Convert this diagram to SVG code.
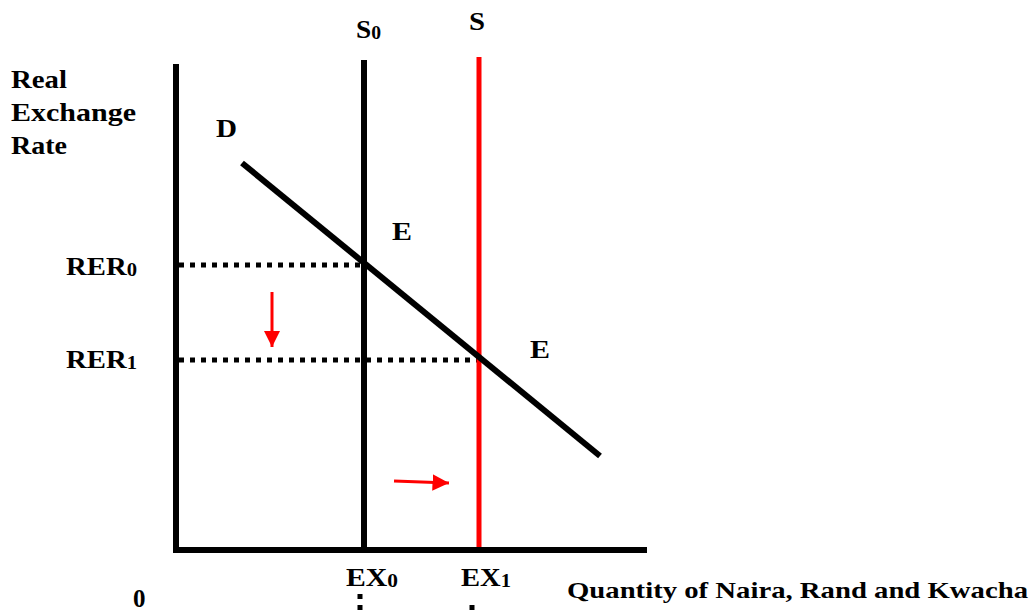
<svg xmlns="http://www.w3.org/2000/svg" width="1031" height="610" viewBox="0 0 1031 610">
<style>
text{font-family:"Liberation Serif","Times New Roman",serif;font-weight:bold;fill:#000}
.lbl{font-size:25px}
.sub{font-size:18px}
.ax{stroke:#000;stroke-width:6;fill:none}
.dot{stroke:#000;stroke-width:5;stroke-dasharray:5 6;fill:none}
.red{stroke:#ff0000;fill:none}
</style>
<defs>
<marker id="ah" viewBox="0 0 10 10" refX="10" refY="5" markerWidth="5.5" markerHeight="5.5" orient="auto" markerUnits="strokeWidth">
<path d="M0,0 L10,5 L0,10 z" fill="#ff0000"/>
</marker>
</defs>
<rect width="1031" height="610" fill="#fff"/>
<g id="axes">
<line class="ax" x1="176" y1="64" x2="176" y2="553"/>
<line class="ax" x1="173" y1="550" x2="647" y2="550" stroke-width="7"/>
</g>
<g id="connectors">
<line class="dot" x1="179" y1="265" x2="364" y2="265"/>
<line class="dot" x1="179" y1="360" x2="480" y2="360"/>
<line class="dot" x1="360" y1="594" x2="360" y2="612"/>
<line class="dot" x1="472" y1="605" x2="472" y2="616"/>
<line class="red" x1="272" y1="292" x2="272" y2="347" stroke-width="3" marker-end="url(#ah)"/>
<line class="red" x1="394" y1="481" x2="449" y2="483" stroke-width="3" marker-end="url(#ah)"/>
</g>
<g id="S0">
<line class="ax" x1="364" y1="60" x2="364" y2="550"/>
<text class="lbl" x="356" y="38" textLength="25" lengthAdjust="spacingAndGlyphs">S<tspan class="sub" dy="1">0</tspan></text>
</g>
<g id="S">
<line x1="479" y1="57" x2="479" y2="547" stroke="#ff0000" stroke-width="5"/>
<text class="lbl" x="469" y="30" textLength="16" lengthAdjust="spacingAndGlyphs">S</text>
</g>
<g id="D">
<line class="ax" x1="242" y1="163" x2="600" y2="456"/>
<text class="lbl" x="216" y="137" textLength="21" lengthAdjust="spacingAndGlyphs">D</text>
</g>
<g id="E0"><text class="lbl" x="392" y="240" textLength="20" lengthAdjust="spacingAndGlyphs">E</text></g>
<g id="E1"><text class="lbl" x="530" y="358" textLength="20" lengthAdjust="spacingAndGlyphs">E</text></g>
<g id="ylabel">
<text class="lbl" x="11" y="88" textLength="56" lengthAdjust="spacingAndGlyphs">Real</text>
<text class="lbl" x="11" y="121" textLength="125" lengthAdjust="spacingAndGlyphs">Exchange</text>
<text class="lbl" x="11" y="154" textLength="56" lengthAdjust="spacingAndGlyphs">Rate</text>
</g>
<g id="RER0"><text class="lbl" x="66" y="275" textLength="71" lengthAdjust="spacingAndGlyphs">RER<tspan class="sub" dy="1">0</tspan></text></g>
<g id="RER1"><text class="lbl" x="66" y="368" textLength="71" lengthAdjust="spacingAndGlyphs">RER<tspan class="sub" dy="1">1</tspan></text></g>
<g id="EX0"><text class="lbl" x="346" y="586" textLength="52" lengthAdjust="spacingAndGlyphs">EX<tspan class="sub" dy="1">0</tspan></text></g>
<g id="EX1"><text class="lbl" x="461" y="586" textLength="50" lengthAdjust="spacingAndGlyphs">EX<tspan class="sub" dy="1">1</tspan></text></g>
<g id="xlabel"><text x="567" y="598" style="font-size:23px" textLength="461" lengthAdjust="spacingAndGlyphs">Quantity of Naira, Rand and Kwacha</text></g>
<g id="origin"><text class="lbl" x="133" y="607">0</text></g>
</svg>
